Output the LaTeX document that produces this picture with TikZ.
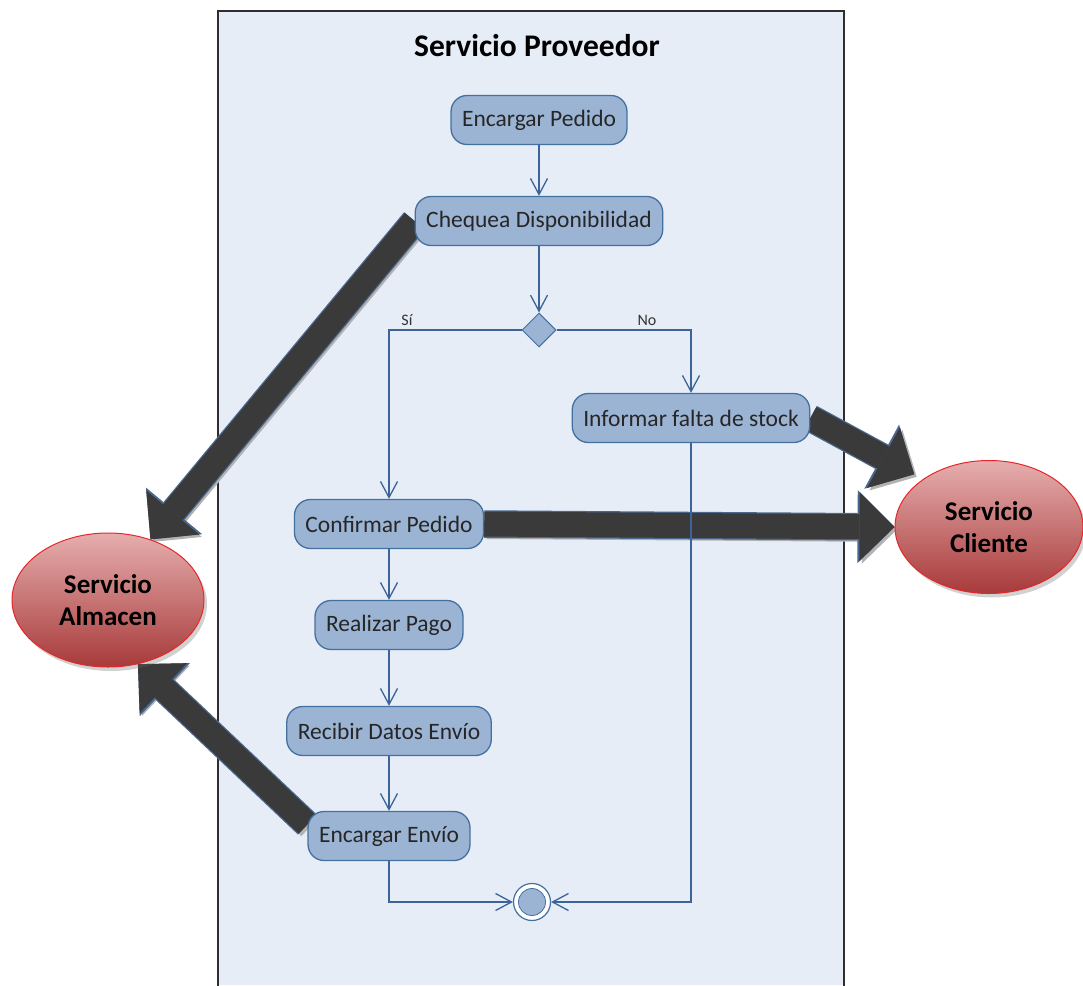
\documentclass[tikz,border=0pt]{standalone}
\usepackage{fontspec}
\setmainfont{Carlito}
\usetikzlibrary{arrows.meta,shapes.geometric,shadows}
\definecolor{lanefill}{HTML}{E6EDF7}
\definecolor{laneborder}{HTML}{2E2E2E}
\definecolor{nodefill}{HTML}{9CB4D4}
\definecolor{nodeborder}{HTML}{4470A0}
\definecolor{linec}{HTML}{3D6499}
\definecolor{arrowdark}{HTML}{3A3A3A}
\definecolor{arrowedge}{HTML}{4A6890}
\definecolor{elltop}{HTML}{E6AEAE}
\definecolor{ellbot}{HTML}{A83A3A}
\definecolor{ellborder}{HTML}{E8262A}
\pgfdeclarelayer{bg}\pgfdeclarelayer{mid}\pgfsetlayers{bg,mid,main}
\newcommand\BigArrow[3][]{%
  \draw[bigshadow,#1] (#2) -- (#3);
  \draw[bigedge,#1] (#2) -- (#3);
  \draw[bigarr,#1] (#2) -- (#3);}
\begin{document}
\begin{tikzpicture}[x=1pt,y=-1pt,
  act/.style={rectangle, rounded corners=16pt, draw=nodeborder, line width=1.3pt,
    fill=nodefill, minimum height=49pt, inner xsep=11pt,
    font=\fontsize{23.5}{27}\selectfont, text=black!85},
  flow/.style={draw=linec, line width=1.3pt, -{Straight Barb[length=16pt,width=17pt]}},
  lbl/.style={font=\fontsize{16}{19}\selectfont, text=black!80, inner sep=1pt},
  ell/.style={ellipse, draw=ellborder, line width=1pt, top color=elltop, bottom color=ellbot,
    align=center, inner sep=0pt, font=\bfseries\fontsize{27}{32}\selectfont, text=black,
    drop shadow={shadow xshift=3pt, shadow yshift=-4pt, opacity=0.3, fill=black!60}},
  finnode/.style={circle, draw=nodeborder, line width=1.2pt, fill=white, minimum size=37pt, inner sep=0pt,
    path picture={\fill[nodefill, draw=nodeborder, line width=0.8pt] (path picture bounding box.center) circle (13.5pt);}},
  bigshadow/.style={draw=black!30, line width=25pt,
    -{Triangle[length=35pt,width=69pt,line width=0pt]}, transform canvas={xshift=2.5pt,yshift=-2.5pt}},
  bigedge/.style={draw=arrowedge, line width=27.5pt,
    -{Triangle[length=37pt,width=73pt,line width=0pt]}},
  bigarr/.style={draw=arrowdark, line width=25pt,
    -{Triangle[length=35pt,width=69pt,line width=0pt]}}]
\useasboundingbox (0,0) rectangle (1083,985);

\begin{pgfonlayer}{bg}
  \fill[lanefill] (218,11) rectangle (844,985);
  \draw[laneborder, line width=1.2pt] (218,990) -- (218,11) -- (844,11) -- (844,990);
\end{pgfonlayer}

\node[font=\bfseries\fontsize{31.5}{36}\selectfont, text=black] (title) at (537,46) {Servicio Proveedor};

\node[act] (ep) at (539,120) {Encargar Pedido};
\node[act] (chq) at (539,221) {Chequea Disponibilidad};
\node[diamond, draw=nodeborder, fill=nodefill, line width=1pt, minimum width=34pt,
  minimum height=34pt, inner sep=0pt] (dia) at (539,330) {};
\node[act] (inf) at (691,418) {Informar falta de stock};
\node[act] (conf) at (389,524) {Confirmar Pedido};
\node[act] (pago) at (389,625) {Realizar Pago};
\node[act] (rec) at (389,731) {Recibir Datos Envío};
\node[act] (env) at (389,836) {Encargar Envío};
\node[finnode] (fin) at (532,902) {};

\node[lbl] (si) at (407,320) {Sí};
\node[lbl] (no) at (647,320) {No};

\node[ell, minimum width=192pt, minimum height=134pt] (alm) at (108,600) {Servicio\\Almacen};
\node[ell, minimum width=188pt, minimum height=133pt] (cli) at (989,527) {Servicio\\Cliente};

\draw[flow] (ep.south) -- (chq.north);
\draw[flow] (chq.south) -- (dia.north);
\draw[flow] (dia.west) -| (conf.north);
\draw[flow] (dia.east) -| (inf.north);
\draw[flow] (conf.south) -- (pago.north);
\draw[flow] (pago.south) -- (rec.north);
\draw[flow] (rec.south) -- (env.north);
\draw[flow] (env.south) |- (fin.west);
\draw[flow] (inf.south) |- (fin.east);

\begin{pgfonlayer}{mid}
  \BigArrow{chq.west}{alm.55}
  \BigArrow{env.172}{alm.-65}
  \BigArrow[shorten >=10pt]{inf.east}{cli.144}
  \BigArrow{conf.east}{cli.west}
\end{pgfonlayer}
\end{tikzpicture}
\end{document}
